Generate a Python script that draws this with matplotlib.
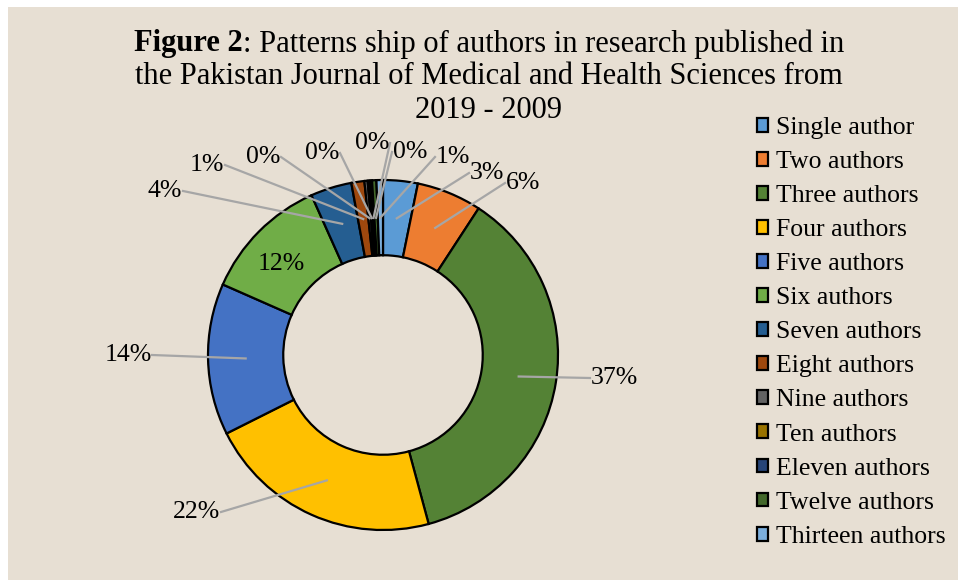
import numpy as np
import matplotlib
matplotlib.use('Agg')
import matplotlib.pyplot as plt
from matplotlib.patches import Rectangle

categories = ['Single author', 'Two authors', 'Three authors', 'Four authors',
              'Five authors', 'Six authors', 'Seven authors', 'Eight authors',
              'Nine authors', 'Ten authors', 'Eleven authors', 'Twelve authors',
              'Thirteen authors']
shares = [3.2, 6.0, 36.6, 21.8, 14.0, 11.7, 3.8, 1.2, 0.3, 0.2, 0.2, 0.4, 0.6]
colors = ['#5B9BD5', '#ED7D31', '#548235', '#FFC000', '#4472C4', '#70AD47',
          '#255E91', '#9E480E', '#636363', '#997300', '#264478', '#43682B',
          '#7CAFDD']

# label text positions in pixels (x, y from top); None = inside the ring
label_pos = [(487, 173), (523, 183), (614, 378), (197, 512), (128, 355), None,
             (165, 191), (207, 165), (263, 157), (322, 153), (372, 143),
             (410, 152), (453, 157)]

W, H = 958, 580
fig = plt.figure(figsize=(W / 100, H / 100), dpi=100, facecolor='white')
ax = fig.add_axes([0, 0, 1, 1])
ax.add_patch(Rectangle((8, 0), W - 8, H - 7, facecolor='#E7DFD3', edgecolor='none', zorder=0))

serif = 'Liberation Serif'
fs = 18.5

cx, cy, R = 383, H - 355, 175
ring = 0.43
wedges, _ = ax.pie(shares, colors=colors, startangle=90, counterclock=False,
                   center=(cx, cy), radius=R, frame=True,
                   wedgeprops=dict(width=R * ring, edgecolor='black', linewidth=1.6))
ax.set_xlim(0, W)
ax.set_ylim(0, H)
ax.set_aspect('equal')
ax.axis('off')

total = sum(shares)
start = 90.0
rmid = R * (1 - ring / 2)
for val, pos in zip(shares, label_pos):
    ang = np.deg2rad(start - val / total * 360 / 2)
    start -= val / total * 360
    txt = '%d%%' % round(val / total * 100)
    px = cx + rmid * np.cos(ang)
    py = cy + rmid * np.sin(ang)
    if pos is None:
        ax.text(px - 4, py - 6, txt, ha='center', va='center', family=serif, fontsize=fs)
        continue
    lx, ly = pos[0], H - pos[1]
    half = 24 if len(txt) == 3 else 18
    ex = lx - half if lx > px else lx + half
    ax.plot([px, ex], [py, ly], color='#A6A6A6', lw=1.6, zorder=3)
    ax.text(lx, ly, txt, ha='center', va='center', family=serif, fontsize=fs, zorder=4)

# title, first line with a bold lead
tfs = 22
fig.canvas.draw()
r = fig.canvas.get_renderer()
t1 = ax.text(0, H - 44, 'Figure 2', family=serif, fontsize=tfs, weight='bold', va='center')
t2 = ax.text(0, H - 44, ': Patterns ship of authors in research published in',
             family=serif, fontsize=tfs, va='center')
w1 = t1.get_window_extent(r).width
w2 = t2.get_window_extent(r).width
x0 = 489 - (w1 + w2) / 2
t1.set_x(x0)
t2.set_x(x0 + w1)
ax.text(489, H - 77, 'the Pakistan Journal of Medical and Health Sciences from',
        family=serif, fontsize=tfs, ha='center', va='center')
ax.text(489, H - 110, '2019 - 2009', family=serif, fontsize=tfs, ha='center', va='center')

leg = ax.legend(wedges, categories, loc='upper left', bbox_to_anchor=(744 / W, 1 - 104 / H),
                frameon=False, prop=dict(family=serif, size=fs), handlelength=0.45,
                handleheight=0.45, handletextpad=0.3, labelspacing=0.47, borderpad=0)
for h in leg.get_patches():
    h.set_linewidth(1.6)

fig.savefig('out.png', dpi=100, facecolor='white')
